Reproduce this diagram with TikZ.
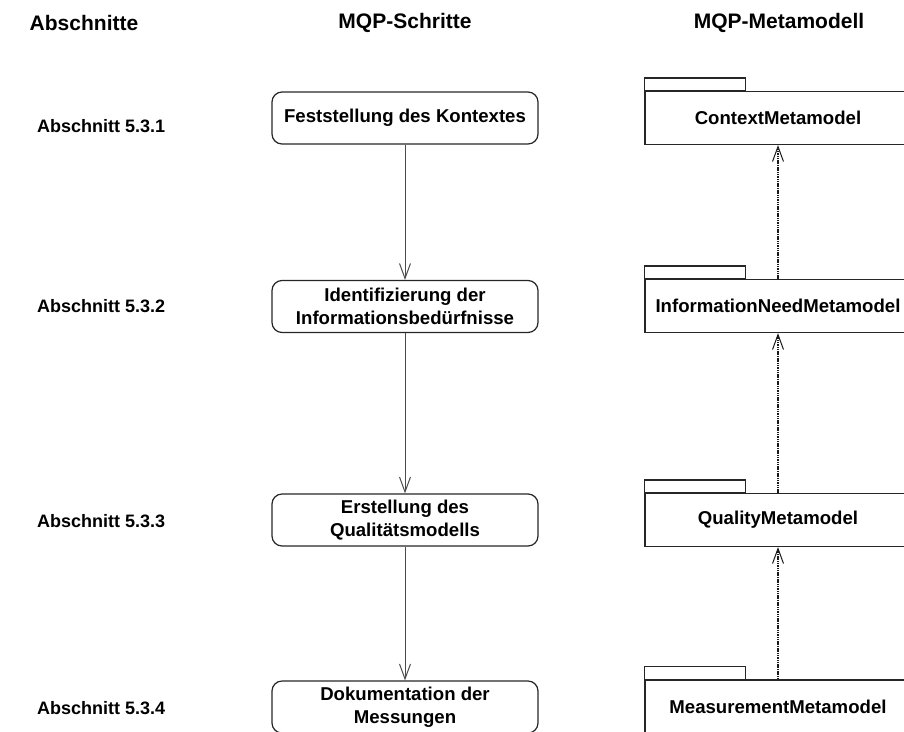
\documentclass[tikz,border=0pt]{standalone}
\usepackage{fontspec}
\setmainfont{Liberation Sans}
\usetikzlibrary{arrows.meta}
\begin{document}
\begin{tikzpicture}[x=1pt,y=-1pt,
  every node/.style={font=\bfseries\fontsize{18}{22}\selectfont, inner sep=0pt},
  header/.style={font=\bfseries\fontsize{21}{25}\selectfont},
  section/.style={anchor=west},
  boxtext/.style={font=\bfseries\fontsize{18.6}{22.5}\selectfont},
  stepbox/.style={boxtext, draw=black!85, line width=1.2pt, rounded corners=10pt,
    minimum width=266pt, minimum height=52pt, align=center},
  pkgbody/.style={boxtext, draw=black!85, line width=1.2pt,
    minimum width=266pt, minimum height=53pt, align=center},
  pkgtab/.style={draw=black!85, line width=1.2pt},
  flow/.style={draw=black!70, line width=1pt,
    -{Straight Barb[length=15pt,width=11pt,line width=1pt]}},
  dep/.style={draw=black!90, line width=1.5pt, dash pattern=on 1.5pt off 0.8pt,
    -{Straight Barb[length=15pt,width=11pt,line width=1pt]}}
]
\useasboundingbox (0,0) rectangle (904,731);

% column headings
\node[header] (h1) at (84,23) {Abschnitte};
\node[header] (h2) at (405,23) {MQP-Schritte};
\node[header] (h3) at (779,23) {MQP-Metamodell};

% section references
\node[section] (a1) at (37,126) {Abschnitt 5.3.1};
\node[section] (a2) at (37,306) {Abschnitt 5.3.2};
\node[section] (a3) at (37,521) {Abschnitt 5.3.3};
\node[section] (a4) at (37,708) {Abschnitt 5.3.4};

% MQP steps
\node[stepbox] (s1) at (405,118) {Feststellung des Kontextes};
\node[stepbox] (s2) at (405,306.5) {Identifizierung der\\Informationsbedürfnisse};
\node[stepbox] (s3) at (405,520) {Erstellung des\\Qualitätsmodells};
\node[stepbox] (s4) at (405,707) {Dokumentation der\\Messungen};

\draw[flow] (s1) -- (s2);
\draw[flow] (s2) -- (s3);
\draw[flow] (s3) -- (s4);

% metamodel packages
\node[pkgbody] (m1) at (778,118) {ContextMetamodel};
\node[pkgbody] (m2) at (778,306) {InformationNeedMetamodel};
\node[pkgbody] (m3) at (778,520) {QualityMetamodel};
\node[pkgbody] (m4) at (778,706.5) {MeasurementMetamodel};

\foreach \m in {m1,m2,m3,m4}
  \draw[pkgtab] (\m.north west) rectangle ++(101,-13);

\draw[dep] (m2) -- (m1);
\draw[dep] (m3) -- (m2);
\draw[dep] (m4) -- (m3);
\end{tikzpicture}
\end{document}
